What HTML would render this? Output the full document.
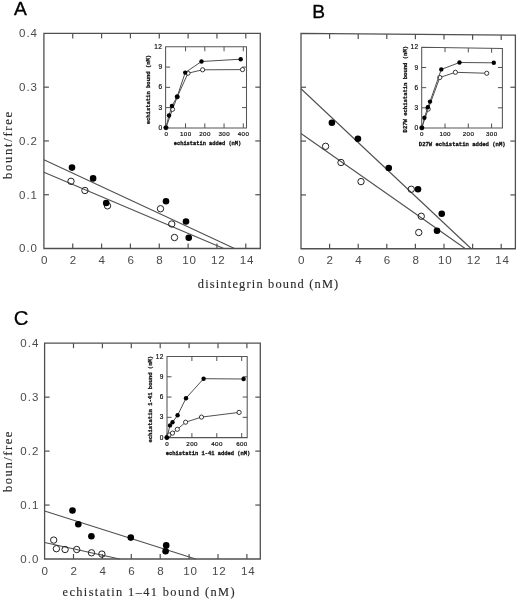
<!DOCTYPE html>
<html><head><meta charset="utf-8"><title>Figure</title>
<style>
html,body{margin:0;padding:0;background:#fff;}
body{width:520px;height:600px;overflow:hidden;font-family:"Liberation Sans",sans-serif;}
svg{display:block;filter:blur(0.3px);}
</style></head>
<body>
<svg width="520" height="600" viewBox="0 0 520 600">
<rect width="520" height="600" fill="#fff"/>
<path d="M43.90,248.50 L43.90,33.40 L260.30,33.40 L260.30,248.50 Z" fill="none" stroke="#505050" stroke-width="1.3" stroke-linejoin="miter"/>
<line x1="72.74" y1="248.50" x2="72.74" y2="243.50" stroke="#505050" stroke-width="1.2"/>
<line x1="72.74" y1="33.40" x2="72.74" y2="38.40" stroke="#505050" stroke-width="1.2"/>
<line x1="101.58" y1="248.50" x2="101.58" y2="243.50" stroke="#505050" stroke-width="1.2"/>
<line x1="101.58" y1="33.40" x2="101.58" y2="38.40" stroke="#505050" stroke-width="1.2"/>
<line x1="130.42" y1="248.50" x2="130.42" y2="243.50" stroke="#505050" stroke-width="1.2"/>
<line x1="130.42" y1="33.40" x2="130.42" y2="38.40" stroke="#505050" stroke-width="1.2"/>
<line x1="159.26" y1="248.50" x2="159.26" y2="243.50" stroke="#505050" stroke-width="1.2"/>
<line x1="159.26" y1="33.40" x2="159.26" y2="38.40" stroke="#505050" stroke-width="1.2"/>
<line x1="188.10" y1="248.50" x2="188.10" y2="243.50" stroke="#505050" stroke-width="1.2"/>
<line x1="188.10" y1="33.40" x2="188.10" y2="38.40" stroke="#505050" stroke-width="1.2"/>
<line x1="216.94" y1="248.50" x2="216.94" y2="243.50" stroke="#505050" stroke-width="1.2"/>
<line x1="216.94" y1="33.40" x2="216.94" y2="38.40" stroke="#505050" stroke-width="1.2"/>
<line x1="245.78" y1="248.50" x2="245.78" y2="243.50" stroke="#505050" stroke-width="1.2"/>
<line x1="245.78" y1="33.40" x2="245.78" y2="38.40" stroke="#505050" stroke-width="1.2"/>
<line x1="43.90" y1="194.72" x2="48.90" y2="194.72" stroke="#505050" stroke-width="1.2"/>
<line x1="260.30" y1="194.72" x2="255.30" y2="194.72" stroke="#505050" stroke-width="1.2"/>
<line x1="43.90" y1="140.95" x2="48.90" y2="140.95" stroke="#505050" stroke-width="1.2"/>
<line x1="260.30" y1="140.95" x2="255.30" y2="140.95" stroke="#505050" stroke-width="1.2"/>
<line x1="43.90" y1="87.17" x2="48.90" y2="87.17" stroke="#505050" stroke-width="1.2"/>
<line x1="260.30" y1="87.17" x2="255.30" y2="87.17" stroke="#505050" stroke-width="1.2"/>
<path d="M301.00,248.75 L301.00,33.40 L515.40,35.20 L515.40,248.75 Z" fill="none" stroke="#505050" stroke-width="1.3" stroke-linejoin="miter"/>
<line x1="329.60" y1="248.75" x2="329.60" y2="243.75" stroke="#505050" stroke-width="1.2"/>
<line x1="329.60" y1="33.64" x2="329.60" y2="38.64" stroke="#505050" stroke-width="1.2"/>
<line x1="358.20" y1="248.75" x2="358.20" y2="243.75" stroke="#505050" stroke-width="1.2"/>
<line x1="358.20" y1="33.88" x2="358.20" y2="38.88" stroke="#505050" stroke-width="1.2"/>
<line x1="386.80" y1="248.75" x2="386.80" y2="243.75" stroke="#505050" stroke-width="1.2"/>
<line x1="386.80" y1="34.12" x2="386.80" y2="39.12" stroke="#505050" stroke-width="1.2"/>
<line x1="415.40" y1="248.75" x2="415.40" y2="243.75" stroke="#505050" stroke-width="1.2"/>
<line x1="415.40" y1="34.36" x2="415.40" y2="39.36" stroke="#505050" stroke-width="1.2"/>
<line x1="444.00" y1="248.75" x2="444.00" y2="243.75" stroke="#505050" stroke-width="1.2"/>
<line x1="444.00" y1="34.60" x2="444.00" y2="39.60" stroke="#505050" stroke-width="1.2"/>
<line x1="472.60" y1="248.75" x2="472.60" y2="243.75" stroke="#505050" stroke-width="1.2"/>
<line x1="472.60" y1="34.84" x2="472.60" y2="39.84" stroke="#505050" stroke-width="1.2"/>
<line x1="501.20" y1="248.75" x2="501.20" y2="243.75" stroke="#505050" stroke-width="1.2"/>
<line x1="501.20" y1="35.08" x2="501.20" y2="40.08" stroke="#505050" stroke-width="1.2"/>
<line x1="301.00" y1="194.91" x2="306.00" y2="194.91" stroke="#505050" stroke-width="1.2"/>
<line x1="515.40" y1="194.91" x2="510.40" y2="194.91" stroke="#505050" stroke-width="1.2"/>
<line x1="301.00" y1="141.07" x2="306.00" y2="141.07" stroke="#505050" stroke-width="1.2"/>
<line x1="515.40" y1="141.07" x2="510.40" y2="141.07" stroke="#505050" stroke-width="1.2"/>
<line x1="301.00" y1="87.24" x2="306.00" y2="87.24" stroke="#505050" stroke-width="1.2"/>
<line x1="515.40" y1="87.24" x2="510.40" y2="87.24" stroke="#505050" stroke-width="1.2"/>
<path d="M44.60,559.00 L44.60,343.20 L260.30,343.20 L260.30,559.00 Z" fill="none" stroke="#505050" stroke-width="1.3" stroke-linejoin="miter"/>
<line x1="73.50" y1="559.00" x2="73.50" y2="554.00" stroke="#505050" stroke-width="1.2"/>
<line x1="73.50" y1="343.20" x2="73.50" y2="348.20" stroke="#505050" stroke-width="1.2"/>
<line x1="102.40" y1="559.00" x2="102.40" y2="554.00" stroke="#505050" stroke-width="1.2"/>
<line x1="102.40" y1="343.20" x2="102.40" y2="348.20" stroke="#505050" stroke-width="1.2"/>
<line x1="131.30" y1="559.00" x2="131.30" y2="554.00" stroke="#505050" stroke-width="1.2"/>
<line x1="131.30" y1="343.20" x2="131.30" y2="348.20" stroke="#505050" stroke-width="1.2"/>
<line x1="160.20" y1="559.00" x2="160.20" y2="554.00" stroke="#505050" stroke-width="1.2"/>
<line x1="160.20" y1="343.20" x2="160.20" y2="348.20" stroke="#505050" stroke-width="1.2"/>
<line x1="189.10" y1="559.00" x2="189.10" y2="554.00" stroke="#505050" stroke-width="1.2"/>
<line x1="189.10" y1="343.20" x2="189.10" y2="348.20" stroke="#505050" stroke-width="1.2"/>
<line x1="218.00" y1="559.00" x2="218.00" y2="554.00" stroke="#505050" stroke-width="1.2"/>
<line x1="218.00" y1="343.20" x2="218.00" y2="348.20" stroke="#505050" stroke-width="1.2"/>
<line x1="246.90" y1="559.00" x2="246.90" y2="554.00" stroke="#505050" stroke-width="1.2"/>
<line x1="246.90" y1="343.20" x2="246.90" y2="348.20" stroke="#505050" stroke-width="1.2"/>
<line x1="44.60" y1="505.05" x2="49.60" y2="505.05" stroke="#505050" stroke-width="1.2"/>
<line x1="260.30" y1="505.05" x2="255.30" y2="505.05" stroke="#505050" stroke-width="1.2"/>
<line x1="44.60" y1="451.10" x2="49.60" y2="451.10" stroke="#505050" stroke-width="1.2"/>
<line x1="260.30" y1="451.10" x2="255.30" y2="451.10" stroke="#505050" stroke-width="1.2"/>
<line x1="44.60" y1="397.15" x2="49.60" y2="397.15" stroke="#505050" stroke-width="1.2"/>
<line x1="260.30" y1="397.15" x2="255.30" y2="397.15" stroke="#505050" stroke-width="1.2"/>
<text x="38.00" y="252.30" font-family="Liberation Sans, sans-serif" font-size="11.5" font-weight="normal" text-anchor="end" fill="#4a4a4a" letter-spacing="1.0">0.0</text>
<text x="38.00" y="198.53" font-family="Liberation Sans, sans-serif" font-size="11.5" font-weight="normal" text-anchor="end" fill="#4a4a4a" letter-spacing="1.0">0.1</text>
<text x="38.00" y="144.75" font-family="Liberation Sans, sans-serif" font-size="11.5" font-weight="normal" text-anchor="end" fill="#4a4a4a" letter-spacing="1.0">0.2</text>
<text x="38.00" y="90.97" font-family="Liberation Sans, sans-serif" font-size="11.5" font-weight="normal" text-anchor="end" fill="#4a4a4a" letter-spacing="1.0">0.3</text>
<text x="38.00" y="37.20" font-family="Liberation Sans, sans-serif" font-size="11.5" font-weight="normal" text-anchor="end" fill="#4a4a4a" letter-spacing="1.0">0.4</text>
<text x="39.30" y="562.80" font-family="Liberation Sans, sans-serif" font-size="11.5" font-weight="normal" text-anchor="end" fill="#4a4a4a" letter-spacing="1.0">0.0</text>
<text x="39.30" y="508.85" font-family="Liberation Sans, sans-serif" font-size="11.5" font-weight="normal" text-anchor="end" fill="#4a4a4a" letter-spacing="1.0">0.1</text>
<text x="39.30" y="454.90" font-family="Liberation Sans, sans-serif" font-size="11.5" font-weight="normal" text-anchor="end" fill="#4a4a4a" letter-spacing="1.0">0.2</text>
<text x="39.30" y="400.95" font-family="Liberation Sans, sans-serif" font-size="11.5" font-weight="normal" text-anchor="end" fill="#4a4a4a" letter-spacing="1.0">0.3</text>
<text x="39.30" y="347.00" font-family="Liberation Sans, sans-serif" font-size="11.5" font-weight="normal" text-anchor="end" fill="#4a4a4a" letter-spacing="1.0">0.4</text>
<text x="44.50" y="264.40" font-family="Liberation Sans, sans-serif" font-size="11.6" font-weight="normal" text-anchor="middle" fill="#4a4a4a" letter-spacing="0.8">0</text>
<text x="73.34" y="264.40" font-family="Liberation Sans, sans-serif" font-size="11.6" font-weight="normal" text-anchor="middle" fill="#4a4a4a" letter-spacing="0.8">2</text>
<text x="102.18" y="264.40" font-family="Liberation Sans, sans-serif" font-size="11.6" font-weight="normal" text-anchor="middle" fill="#4a4a4a" letter-spacing="0.8">4</text>
<text x="131.02" y="264.40" font-family="Liberation Sans, sans-serif" font-size="11.6" font-weight="normal" text-anchor="middle" fill="#4a4a4a" letter-spacing="0.8">6</text>
<text x="159.86" y="264.40" font-family="Liberation Sans, sans-serif" font-size="11.6" font-weight="normal" text-anchor="middle" fill="#4a4a4a" letter-spacing="0.8">8</text>
<text x="189.40" y="264.40" font-family="Liberation Sans, sans-serif" font-size="11.6" font-weight="normal" text-anchor="middle" fill="#4a4a4a" letter-spacing="0.8">10</text>
<text x="218.24" y="264.40" font-family="Liberation Sans, sans-serif" font-size="11.6" font-weight="normal" text-anchor="middle" fill="#4a4a4a" letter-spacing="0.8">12</text>
<text x="247.08" y="264.40" font-family="Liberation Sans, sans-serif" font-size="11.6" font-weight="normal" text-anchor="middle" fill="#4a4a4a" letter-spacing="0.8">14</text>
<text x="301.60" y="264.40" font-family="Liberation Sans, sans-serif" font-size="11.6" font-weight="normal" text-anchor="middle" fill="#4a4a4a" letter-spacing="0.8">0</text>
<text x="330.20" y="264.40" font-family="Liberation Sans, sans-serif" font-size="11.6" font-weight="normal" text-anchor="middle" fill="#4a4a4a" letter-spacing="0.8">2</text>
<text x="358.80" y="264.40" font-family="Liberation Sans, sans-serif" font-size="11.6" font-weight="normal" text-anchor="middle" fill="#4a4a4a" letter-spacing="0.8">4</text>
<text x="387.40" y="264.40" font-family="Liberation Sans, sans-serif" font-size="11.6" font-weight="normal" text-anchor="middle" fill="#4a4a4a" letter-spacing="0.8">6</text>
<text x="416.00" y="264.40" font-family="Liberation Sans, sans-serif" font-size="11.6" font-weight="normal" text-anchor="middle" fill="#4a4a4a" letter-spacing="0.8">8</text>
<text x="445.30" y="264.40" font-family="Liberation Sans, sans-serif" font-size="11.6" font-weight="normal" text-anchor="middle" fill="#4a4a4a" letter-spacing="0.8">10</text>
<text x="473.90" y="264.40" font-family="Liberation Sans, sans-serif" font-size="11.6" font-weight="normal" text-anchor="middle" fill="#4a4a4a" letter-spacing="0.8">12</text>
<text x="502.50" y="264.40" font-family="Liberation Sans, sans-serif" font-size="11.6" font-weight="normal" text-anchor="middle" fill="#4a4a4a" letter-spacing="0.8">14</text>
<text x="45.20" y="575.00" font-family="Liberation Sans, sans-serif" font-size="11.6" font-weight="normal" text-anchor="middle" fill="#4a4a4a" letter-spacing="0.8">0</text>
<text x="74.10" y="575.00" font-family="Liberation Sans, sans-serif" font-size="11.6" font-weight="normal" text-anchor="middle" fill="#4a4a4a" letter-spacing="0.8">2</text>
<text x="103.00" y="575.00" font-family="Liberation Sans, sans-serif" font-size="11.6" font-weight="normal" text-anchor="middle" fill="#4a4a4a" letter-spacing="0.8">4</text>
<text x="131.90" y="575.00" font-family="Liberation Sans, sans-serif" font-size="11.6" font-weight="normal" text-anchor="middle" fill="#4a4a4a" letter-spacing="0.8">6</text>
<text x="160.80" y="575.00" font-family="Liberation Sans, sans-serif" font-size="11.6" font-weight="normal" text-anchor="middle" fill="#4a4a4a" letter-spacing="0.8">8</text>
<text x="190.40" y="575.00" font-family="Liberation Sans, sans-serif" font-size="11.6" font-weight="normal" text-anchor="middle" fill="#4a4a4a" letter-spacing="0.8">10</text>
<text x="219.30" y="575.00" font-family="Liberation Sans, sans-serif" font-size="11.6" font-weight="normal" text-anchor="middle" fill="#4a4a4a" letter-spacing="0.8">12</text>
<text x="248.20" y="575.00" font-family="Liberation Sans, sans-serif" font-size="11.6" font-weight="normal" text-anchor="middle" fill="#4a4a4a" letter-spacing="0.8">14</text>
<text x="20.50" y="15.40" font-family="Liberation Sans, sans-serif" font-size="19.2" font-weight="normal" text-anchor="middle" fill="#000" stroke="#000" stroke-width="0.35">A</text>
<text x="318.60" y="18.20" font-family="Liberation Sans, sans-serif" font-size="19.2" font-weight="normal" text-anchor="middle" fill="#000" stroke="#000" stroke-width="0.35">B</text>
<text x="21.20" y="324.80" font-family="Liberation Sans, sans-serif" font-size="20.4" font-weight="normal" text-anchor="middle" fill="#000" stroke="#000" stroke-width="0.15">C</text>
<text x="268" y="287.7" font-family="Liberation Serif, serif" font-size="12.4" text-anchor="middle" fill="#2a2a2a" stroke="#2a2a2a" stroke-width="0.12" textLength="140.5" lengthAdjust="spacing">disintegrin bound (nM)</text>
<text x="148.6" y="596.4" font-family="Liberation Serif, serif" font-size="12.4" text-anchor="middle" fill="#2a2a2a" stroke="#2a2a2a" stroke-width="0.12" textLength="172" lengthAdjust="spacing">echistatin 1–41 bound (nM)</text>
<text transform="translate(11.7,145.4) rotate(-90)" font-family="Liberation Serif, serif" font-size="12.6" text-anchor="middle" fill="#2a2a2a" stroke="#2a2a2a" stroke-width="0.12" textLength="67" lengthAdjust="spacing">bount/free</text>
<text transform="translate(11.7,461.8) rotate(-90)" font-family="Liberation Serif, serif" font-size="12.6" text-anchor="middle" fill="#2a2a2a" stroke="#2a2a2a" stroke-width="0.12" textLength="60.5" lengthAdjust="spacing">boun/free</text>
<line x1="43.90" y1="159.80" x2="234.50" y2="248.50" stroke="#505050" stroke-width="1.1"/>
<line x1="43.90" y1="172.30" x2="223.75" y2="248.50" stroke="#505050" stroke-width="1.1"/>
<circle cx="71.00" cy="181.30" r="3.2" fill="none" stroke="#222" stroke-width="1.0"/>
<circle cx="84.90" cy="190.50" r="3.2" fill="none" stroke="#222" stroke-width="1.0"/>
<circle cx="107.50" cy="205.80" r="3.2" fill="none" stroke="#222" stroke-width="1.0"/>
<circle cx="160.50" cy="208.75" r="3.2" fill="none" stroke="#222" stroke-width="1.0"/>
<circle cx="171.75" cy="224.00" r="3.2" fill="none" stroke="#222" stroke-width="1.0"/>
<circle cx="174.50" cy="237.50" r="3.2" fill="none" stroke="#222" stroke-width="1.0"/>
<circle cx="72.00" cy="167.60" r="3.3" fill="#000"/>
<circle cx="93.10" cy="178.40" r="3.3" fill="#000"/>
<circle cx="106.20" cy="203.00" r="3.3" fill="#000"/>
<circle cx="166.00" cy="201.30" r="3.3" fill="#000"/>
<circle cx="186.00" cy="221.50" r="3.3" fill="#000"/>
<circle cx="188.75" cy="237.75" r="3.3" fill="#000"/>
<line x1="301.00" y1="88.75" x2="471.25" y2="248.75" stroke="#505050" stroke-width="1.1"/>
<line x1="301.00" y1="133.50" x2="465.50" y2="248.75" stroke="#505050" stroke-width="1.1"/>
<circle cx="325.60" cy="146.30" r="3.2" fill="none" stroke="#222" stroke-width="1.0"/>
<circle cx="341.00" cy="162.50" r="3.2" fill="none" stroke="#222" stroke-width="1.0"/>
<circle cx="361.00" cy="181.60" r="3.2" fill="none" stroke="#222" stroke-width="1.0"/>
<circle cx="411.25" cy="189.25" r="3.2" fill="none" stroke="#222" stroke-width="1.0"/>
<circle cx="421.25" cy="216.25" r="3.2" fill="none" stroke="#222" stroke-width="1.0"/>
<circle cx="418.75" cy="232.50" r="3.2" fill="none" stroke="#222" stroke-width="1.0"/>
<circle cx="331.90" cy="122.80" r="3.3" fill="#000"/>
<circle cx="357.90" cy="138.70" r="3.3" fill="#000"/>
<circle cx="388.75" cy="168.00" r="3.3" fill="#000"/>
<circle cx="418.00" cy="189.25" r="3.3" fill="#000"/>
<circle cx="441.75" cy="213.75" r="3.3" fill="#000"/>
<circle cx="437.00" cy="230.75" r="3.3" fill="#000"/>
<line x1="44.60" y1="511.00" x2="195.60" y2="559.00" stroke="#505050" stroke-width="1.1"/>
<line x1="44.60" y1="542.50" x2="119.60" y2="559.00" stroke="#505050" stroke-width="1.1"/>
<circle cx="53.70" cy="540.10" r="3.2" fill="none" stroke="#222" stroke-width="1.0"/>
<circle cx="56.40" cy="548.70" r="3.2" fill="none" stroke="#222" stroke-width="1.0"/>
<circle cx="65.10" cy="549.50" r="3.2" fill="none" stroke="#222" stroke-width="1.0"/>
<circle cx="76.70" cy="549.50" r="3.2" fill="none" stroke="#222" stroke-width="1.0"/>
<circle cx="91.50" cy="552.80" r="3.2" fill="none" stroke="#222" stroke-width="1.0"/>
<circle cx="101.90" cy="554.10" r="3.2" fill="none" stroke="#222" stroke-width="1.0"/>
<circle cx="72.50" cy="510.50" r="3.3" fill="#000"/>
<circle cx="78.30" cy="524.20" r="3.3" fill="#000"/>
<circle cx="91.40" cy="536.30" r="3.3" fill="#000"/>
<circle cx="130.80" cy="537.60" r="3.3" fill="#000"/>
<circle cx="166.20" cy="545.40" r="3.3" fill="#000"/>
<circle cx="165.60" cy="551.20" r="3.3" fill="#000"/>
<path d="M165.60,127.90 L165.60,46.80 L246.50,46.80 L246.50,127.90 Z" fill="none" stroke="#555" stroke-width="1.05" stroke-linejoin="miter"/>
<text x="166.50" y="136.00" font-family="Liberation Sans, sans-serif" font-size="6.2" font-weight="normal" text-anchor="middle" fill="#111" letter-spacing="0.4" stroke="#111" stroke-width="0.2">0</text>
<line x1="185.55" y1="127.90" x2="185.55" y2="123.40" stroke="#505050" stroke-width="1.0"/>
<line x1="185.55" y1="46.80" x2="185.55" y2="51.30" stroke="#505050" stroke-width="1.0"/>
<text x="185.75" y="136.00" font-family="Liberation Sans, sans-serif" font-size="6.2" font-weight="normal" text-anchor="middle" fill="#111" letter-spacing="0.4" stroke="#111" stroke-width="0.2">100</text>
<line x1="204.80" y1="127.90" x2="204.80" y2="123.40" stroke="#505050" stroke-width="1.0"/>
<line x1="204.80" y1="46.80" x2="204.80" y2="51.30" stroke="#505050" stroke-width="1.0"/>
<text x="205.00" y="136.00" font-family="Liberation Sans, sans-serif" font-size="6.2" font-weight="normal" text-anchor="middle" fill="#111" letter-spacing="0.4" stroke="#111" stroke-width="0.2">200</text>
<line x1="224.05" y1="127.90" x2="224.05" y2="123.40" stroke="#505050" stroke-width="1.0"/>
<line x1="224.05" y1="46.80" x2="224.05" y2="51.30" stroke="#505050" stroke-width="1.0"/>
<text x="224.25" y="136.00" font-family="Liberation Sans, sans-serif" font-size="6.2" font-weight="normal" text-anchor="middle" fill="#111" letter-spacing="0.4" stroke="#111" stroke-width="0.2">300</text>
<line x1="243.30" y1="127.90" x2="243.30" y2="123.40" stroke="#505050" stroke-width="1.0"/>
<line x1="243.30" y1="46.80" x2="243.30" y2="51.30" stroke="#505050" stroke-width="1.0"/>
<text x="243.50" y="136.00" font-family="Liberation Sans, sans-serif" font-size="6.2" font-weight="normal" text-anchor="middle" fill="#111" letter-spacing="0.4" stroke="#111" stroke-width="0.2">400</text>
<text x="162.40" y="130.00" font-family="Liberation Sans, sans-serif" font-size="6.5" font-weight="normal" text-anchor="end" fill="#111" letter-spacing="0.4" stroke="#111" stroke-width="0.2">0</text>
<line x1="165.60" y1="107.62" x2="170.10" y2="107.62" stroke="#505050" stroke-width="1.0"/>
<line x1="246.50" y1="107.62" x2="242.00" y2="107.62" stroke="#505050" stroke-width="1.0"/>
<text x="162.40" y="109.72" font-family="Liberation Sans, sans-serif" font-size="6.5" font-weight="normal" text-anchor="end" fill="#111" letter-spacing="0.4" stroke="#111" stroke-width="0.2">3</text>
<line x1="165.60" y1="87.35" x2="170.10" y2="87.35" stroke="#505050" stroke-width="1.0"/>
<line x1="246.50" y1="87.35" x2="242.00" y2="87.35" stroke="#505050" stroke-width="1.0"/>
<text x="162.40" y="89.45" font-family="Liberation Sans, sans-serif" font-size="6.5" font-weight="normal" text-anchor="end" fill="#111" letter-spacing="0.4" stroke="#111" stroke-width="0.2">6</text>
<line x1="165.60" y1="67.08" x2="170.10" y2="67.08" stroke="#505050" stroke-width="1.0"/>
<line x1="246.50" y1="67.08" x2="242.00" y2="67.08" stroke="#505050" stroke-width="1.0"/>
<text x="162.40" y="69.17" font-family="Liberation Sans, sans-serif" font-size="6.5" font-weight="normal" text-anchor="end" fill="#111" letter-spacing="0.4" stroke="#111" stroke-width="0.2">9</text>
<text x="162.40" y="48.90" font-family="Liberation Sans, sans-serif" font-size="6.5" font-weight="normal" text-anchor="end" fill="#111" letter-spacing="0.4" stroke="#111" stroke-width="0.2">12</text>
<path d="M421.70,128.00 L421.70,47.30 L502.40,48.40 L502.40,128.00 Z" fill="none" stroke="#555" stroke-width="1.05" stroke-linejoin="miter"/>
<text x="421.90" y="136.10" font-family="Liberation Sans, sans-serif" font-size="6.2" font-weight="normal" text-anchor="middle" fill="#111" letter-spacing="0.4" stroke="#111" stroke-width="0.2">0</text>
<line x1="445.00" y1="128.00" x2="445.00" y2="123.50" stroke="#505050" stroke-width="1.0"/>
<line x1="445.00" y1="47.62" x2="445.00" y2="52.12" stroke="#505050" stroke-width="1.0"/>
<text x="445.20" y="136.10" font-family="Liberation Sans, sans-serif" font-size="6.2" font-weight="normal" text-anchor="middle" fill="#111" letter-spacing="0.4" stroke="#111" stroke-width="0.2">100</text>
<line x1="468.30" y1="128.00" x2="468.30" y2="123.50" stroke="#505050" stroke-width="1.0"/>
<line x1="468.30" y1="47.94" x2="468.30" y2="52.44" stroke="#505050" stroke-width="1.0"/>
<text x="468.50" y="136.10" font-family="Liberation Sans, sans-serif" font-size="6.2" font-weight="normal" text-anchor="middle" fill="#111" letter-spacing="0.4" stroke="#111" stroke-width="0.2">200</text>
<line x1="491.60" y1="128.00" x2="491.60" y2="123.50" stroke="#505050" stroke-width="1.0"/>
<line x1="491.60" y1="48.25" x2="491.60" y2="52.75" stroke="#505050" stroke-width="1.0"/>
<text x="491.80" y="136.10" font-family="Liberation Sans, sans-serif" font-size="6.2" font-weight="normal" text-anchor="middle" fill="#111" letter-spacing="0.4" stroke="#111" stroke-width="0.2">300</text>
<text x="418.50" y="130.10" font-family="Liberation Sans, sans-serif" font-size="6.5" font-weight="normal" text-anchor="end" fill="#111" letter-spacing="0.4" stroke="#111" stroke-width="0.2">0</text>
<line x1="421.70" y1="107.83" x2="426.20" y2="107.83" stroke="#505050" stroke-width="1.0"/>
<line x1="502.40" y1="107.83" x2="497.90" y2="107.83" stroke="#505050" stroke-width="1.0"/>
<text x="418.50" y="109.92" font-family="Liberation Sans, sans-serif" font-size="6.5" font-weight="normal" text-anchor="end" fill="#111" letter-spacing="0.4" stroke="#111" stroke-width="0.2">3</text>
<line x1="421.70" y1="87.65" x2="426.20" y2="87.65" stroke="#505050" stroke-width="1.0"/>
<line x1="502.40" y1="87.65" x2="497.90" y2="87.65" stroke="#505050" stroke-width="1.0"/>
<text x="418.50" y="89.75" font-family="Liberation Sans, sans-serif" font-size="6.5" font-weight="normal" text-anchor="end" fill="#111" letter-spacing="0.4" stroke="#111" stroke-width="0.2">6</text>
<line x1="421.70" y1="67.47" x2="426.20" y2="67.47" stroke="#505050" stroke-width="1.0"/>
<line x1="502.40" y1="67.47" x2="497.90" y2="67.47" stroke="#505050" stroke-width="1.0"/>
<text x="418.50" y="69.57" font-family="Liberation Sans, sans-serif" font-size="6.5" font-weight="normal" text-anchor="end" fill="#111" letter-spacing="0.4" stroke="#111" stroke-width="0.2">9</text>
<text x="418.50" y="49.40" font-family="Liberation Sans, sans-serif" font-size="6.5" font-weight="normal" text-anchor="end" fill="#111" letter-spacing="0.4" stroke="#111" stroke-width="0.2">12</text>
<path d="M167.00,437.60 L167.00,356.50 L247.20,356.50 L247.20,437.60 Z" fill="none" stroke="#555" stroke-width="1.05" stroke-linejoin="miter"/>
<text x="167.20" y="445.70" font-family="Liberation Sans, sans-serif" font-size="6.2" font-weight="normal" text-anchor="middle" fill="#111" letter-spacing="0.4" stroke="#111" stroke-width="0.2">0</text>
<line x1="191.90" y1="437.60" x2="191.90" y2="433.10" stroke="#505050" stroke-width="1.0"/>
<line x1="191.90" y1="356.50" x2="191.90" y2="361.00" stroke="#505050" stroke-width="1.0"/>
<text x="192.10" y="445.70" font-family="Liberation Sans, sans-serif" font-size="6.2" font-weight="normal" text-anchor="middle" fill="#111" letter-spacing="0.4" stroke="#111" stroke-width="0.2">200</text>
<line x1="216.80" y1="437.60" x2="216.80" y2="433.10" stroke="#505050" stroke-width="1.0"/>
<line x1="216.80" y1="356.50" x2="216.80" y2="361.00" stroke="#505050" stroke-width="1.0"/>
<text x="217.00" y="445.70" font-family="Liberation Sans, sans-serif" font-size="6.2" font-weight="normal" text-anchor="middle" fill="#111" letter-spacing="0.4" stroke="#111" stroke-width="0.2">400</text>
<line x1="241.70" y1="437.60" x2="241.70" y2="433.10" stroke="#505050" stroke-width="1.0"/>
<line x1="241.70" y1="356.50" x2="241.70" y2="361.00" stroke="#505050" stroke-width="1.0"/>
<text x="241.90" y="445.70" font-family="Liberation Sans, sans-serif" font-size="6.2" font-weight="normal" text-anchor="middle" fill="#111" letter-spacing="0.4" stroke="#111" stroke-width="0.2">600</text>
<text x="163.80" y="439.70" font-family="Liberation Sans, sans-serif" font-size="6.5" font-weight="normal" text-anchor="end" fill="#111" letter-spacing="0.4" stroke="#111" stroke-width="0.2">0</text>
<line x1="167.00" y1="417.33" x2="171.50" y2="417.33" stroke="#505050" stroke-width="1.0"/>
<line x1="247.20" y1="417.33" x2="242.70" y2="417.33" stroke="#505050" stroke-width="1.0"/>
<text x="163.80" y="419.43" font-family="Liberation Sans, sans-serif" font-size="6.5" font-weight="normal" text-anchor="end" fill="#111" letter-spacing="0.4" stroke="#111" stroke-width="0.2">3</text>
<line x1="167.00" y1="397.05" x2="171.50" y2="397.05" stroke="#505050" stroke-width="1.0"/>
<line x1="247.20" y1="397.05" x2="242.70" y2="397.05" stroke="#505050" stroke-width="1.0"/>
<text x="163.80" y="399.15" font-family="Liberation Sans, sans-serif" font-size="6.5" font-weight="normal" text-anchor="end" fill="#111" letter-spacing="0.4" stroke="#111" stroke-width="0.2">6</text>
<line x1="167.00" y1="376.77" x2="171.50" y2="376.77" stroke="#505050" stroke-width="1.0"/>
<line x1="247.20" y1="376.77" x2="242.70" y2="376.77" stroke="#505050" stroke-width="1.0"/>
<text x="163.80" y="378.88" font-family="Liberation Sans, sans-serif" font-size="6.5" font-weight="normal" text-anchor="end" fill="#111" letter-spacing="0.4" stroke="#111" stroke-width="0.2">9</text>
<text x="163.80" y="358.60" font-family="Liberation Sans, sans-serif" font-size="6.5" font-weight="normal" text-anchor="end" fill="#111" letter-spacing="0.4" stroke="#111" stroke-width="0.2">12</text>
<text x="207.50" y="145.00" font-family="Liberation Mono, monospace" font-size="6.0" font-weight="bold" text-anchor="middle" fill="#111" stroke="#111" stroke-width="0.3" textLength="67.5" lengthAdjust="spacingAndGlyphs">echistatin added (nM)</text>
<text transform="translate(149.50,89.60) rotate(-90)" font-family="Liberation Mono, monospace" font-size="6.0" font-weight="bold" text-anchor="middle" fill="#111" stroke="#111" stroke-width="0.3" textLength="69.5" lengthAdjust="spacingAndGlyphs">echistatin bound (nM)</text>
<text x="462.20" y="145.90" font-family="Liberation Mono, monospace" font-size="6.0" font-weight="bold" text-anchor="middle" fill="#111" stroke="#111" stroke-width="0.3" textLength="86.8" lengthAdjust="spacingAndGlyphs">D27W echistatin added (nM)</text>
<text transform="translate(407.20,89.20) rotate(-90)" font-family="Liberation Mono, monospace" font-size="6.0" font-weight="bold" text-anchor="middle" fill="#111" stroke="#111" stroke-width="0.3" textLength="86.5" lengthAdjust="spacingAndGlyphs">D27W echistatin bound (nM)</text>
<text x="208.00" y="454.60" font-family="Liberation Mono, monospace" font-size="6.0" font-weight="bold" text-anchor="middle" fill="#111" stroke="#111" stroke-width="0.3" textLength="84.5" lengthAdjust="spacingAndGlyphs">echistatin 1-41 added (nM)</text>
<text transform="translate(151.60,399.20) rotate(-90)" font-family="Liberation Mono, monospace" font-size="6.0" font-weight="bold" text-anchor="middle" fill="#111" stroke="#111" stroke-width="0.3" textLength="86.7" lengthAdjust="spacingAndGlyphs">echistatin 1-41 bound (nM)</text>
<polyline points="166.00,127.70 172.50,109.30 177.30,96.80 188.00,73.20 202.60,69.80 242.50,69.60" fill="none" stroke="#505050" stroke-width="1.0"/>
<circle cx="166.00" cy="127.70" r="2.1" fill="#fff" stroke="#222" stroke-width="0.9"/>
<circle cx="172.50" cy="109.30" r="2.1" fill="#fff" stroke="#222" stroke-width="0.9"/>
<circle cx="177.30" cy="96.80" r="2.1" fill="#fff" stroke="#222" stroke-width="0.9"/>
<circle cx="188.00" cy="73.20" r="2.1" fill="#fff" stroke="#222" stroke-width="0.9"/>
<circle cx="202.60" cy="69.80" r="2.1" fill="#fff" stroke="#222" stroke-width="0.9"/>
<circle cx="242.50" cy="69.60" r="2.1" fill="#fff" stroke="#222" stroke-width="0.9"/>
<polyline points="165.90,127.60 169.00,115.50 171.90,106.00 177.10,96.80 185.20,72.60 201.50,61.50 240.70,59.20" fill="none" stroke="#505050" stroke-width="1.0"/>
<circle cx="165.90" cy="127.60" r="2.2" fill="#000"/>
<circle cx="169.00" cy="115.50" r="2.2" fill="#000"/>
<circle cx="171.90" cy="106.00" r="2.2" fill="#000"/>
<circle cx="177.10" cy="96.80" r="2.2" fill="#000"/>
<circle cx="185.20" cy="72.60" r="2.2" fill="#000"/>
<circle cx="201.50" cy="61.50" r="2.2" fill="#000"/>
<circle cx="240.70" cy="59.20" r="2.2" fill="#000"/>
<polyline points="421.75,127.80 428.20,109.10 439.80,77.50 455.40,72.30 486.75,73.25" fill="none" stroke="#505050" stroke-width="1.0"/>
<circle cx="421.75" cy="127.80" r="2.1" fill="#fff" stroke="#222" stroke-width="0.9"/>
<circle cx="428.20" cy="109.10" r="2.1" fill="#fff" stroke="#222" stroke-width="0.9"/>
<circle cx="439.80" cy="77.50" r="2.1" fill="#fff" stroke="#222" stroke-width="0.9"/>
<circle cx="455.40" cy="72.30" r="2.1" fill="#fff" stroke="#222" stroke-width="0.9"/>
<circle cx="486.75" cy="73.25" r="2.1" fill="#fff" stroke="#222" stroke-width="0.9"/>
<polyline points="422.00,127.80 424.40,117.70 427.80,107.20 430.00,101.60 441.30,69.40 459.50,62.50 493.80,62.80" fill="none" stroke="#505050" stroke-width="1.0"/>
<circle cx="422.00" cy="127.80" r="2.2" fill="#000"/>
<circle cx="424.40" cy="117.70" r="2.2" fill="#000"/>
<circle cx="427.80" cy="107.20" r="2.2" fill="#000"/>
<circle cx="430.00" cy="101.60" r="2.2" fill="#000"/>
<circle cx="441.30" cy="69.40" r="2.2" fill="#000"/>
<circle cx="459.50" cy="62.50" r="2.2" fill="#000"/>
<circle cx="493.80" cy="62.80" r="2.2" fill="#000"/>
<polyline points="166.90,437.50 169.00,434.90 172.50,433.10 177.30,429.30 185.60,422.20 201.50,417.10 239.10,412.40" fill="none" stroke="#505050" stroke-width="1.0"/>
<circle cx="166.90" cy="437.50" r="2.1" fill="#fff" stroke="#222" stroke-width="0.9"/>
<circle cx="169.00" cy="434.90" r="2.1" fill="#fff" stroke="#222" stroke-width="0.9"/>
<circle cx="172.50" cy="433.10" r="2.1" fill="#fff" stroke="#222" stroke-width="0.9"/>
<circle cx="177.30" cy="429.30" r="2.1" fill="#fff" stroke="#222" stroke-width="0.9"/>
<circle cx="185.60" cy="422.20" r="2.1" fill="#fff" stroke="#222" stroke-width="0.9"/>
<circle cx="201.50" cy="417.10" r="2.1" fill="#fff" stroke="#222" stroke-width="0.9"/>
<circle cx="239.10" cy="412.40" r="2.1" fill="#fff" stroke="#222" stroke-width="0.9"/>
<polyline points="166.90,437.50 170.00,425.40 172.50,422.20 177.60,415.30 186.00,398.20 203.60,378.70 243.60,379.00" fill="none" stroke="#505050" stroke-width="1.0"/>
<circle cx="166.90" cy="437.50" r="2.2" fill="#000"/>
<circle cx="170.00" cy="425.40" r="2.2" fill="#000"/>
<circle cx="172.50" cy="422.20" r="2.2" fill="#000"/>
<circle cx="177.60" cy="415.30" r="2.2" fill="#000"/>
<circle cx="186.00" cy="398.20" r="2.2" fill="#000"/>
<circle cx="203.60" cy="378.70" r="2.2" fill="#000"/>
<circle cx="243.60" cy="379.00" r="2.2" fill="#000"/>
</svg>
</body></html>
